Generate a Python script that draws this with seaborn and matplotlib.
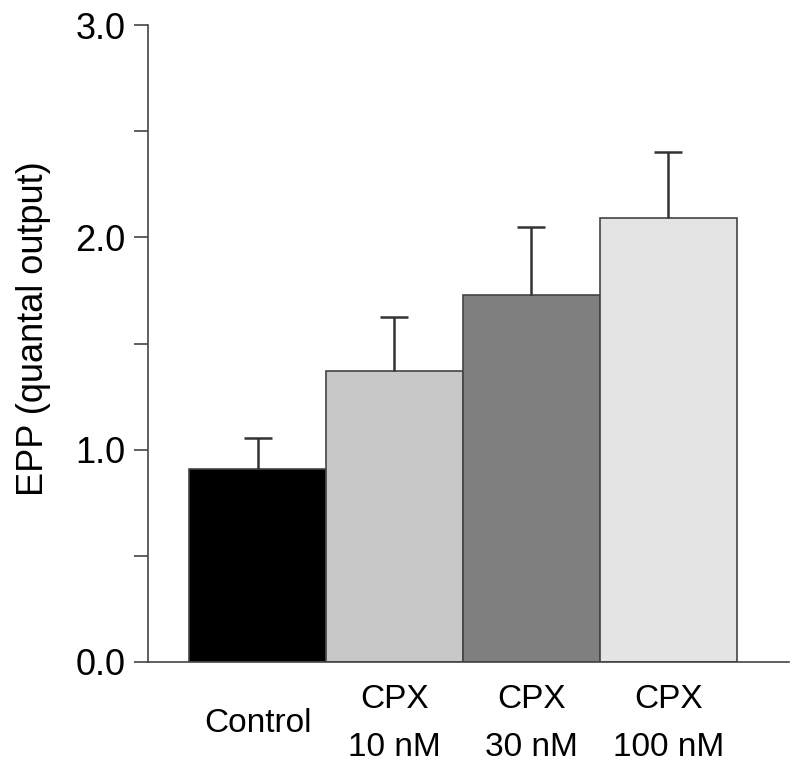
import numpy as np
import pandas as pd
import matplotlib
matplotlib.use("Agg")
import matplotlib.pyplot as plt
import seaborn as sns

# data
groups = ["Control", "CPX\n10 nM", "CPX\n30 nM", "CPX\n100 nM"]
epp_mean = [0.91, 1.37, 1.73, 2.09]
epp_sem = [0.145, 0.255, 0.32, 0.31]
bar_colors = ["#000000", "#c8c8c8", "#7f7f7f", "#e4e4e4"]

df = pd.DataFrame({"group": groups, "epp": epp_mean})

sns.set_style("ticks")
plt.rcParams["font.family"] = ["Liberation Sans", "DejaVu Sans"]
plt.rcParams["text.color"] = "black"
plt.rcParams["axes.labelcolor"] = "black"
plt.rcParams["xtick.color"] = "black"
plt.rcParams["ytick.color"] = "black"

fig = plt.figure(figsize=(8, 7.72), dpi=100)
ax = fig.add_axes([0.185, 0.1425, 0.801, 0.825])

sns.barplot(data=df, x="group", y="epp", hue="group", palette=bar_colors,
            width=1.0, edgecolor="#444444", linewidth=1.2, legend=False, ax=ax)

# one-sided error bars (upward only)
xs = np.arange(len(groups))
_, caps, _ = ax.errorbar(xs, epp_mean, yerr=[np.zeros(len(groups)), epp_sem], fmt="none",
                         ecolor="#333333", elinewidth=1.8, capsize=10, capthick=1.8, zorder=1)
caps[0].set_visible(False)

ax.set_xlim(-0.80, 3.88)
ax.set_ylim(0, 3.0)
ax.set_yticks(np.arange(0, 3.01, 0.5))
ax.set_yticklabels(["0.0", "", "1.0", "", "2.0", "", "3.0"])
ax.tick_params(axis="y", length=10, width=1.2, color="#444444", labelsize=26, pad=6)
ax.tick_params(axis="x", length=0, labelsize=24, pad=44)
for lab in ax.get_xticklabels():
    lab.set_verticalalignment("center")
    lab.set_linespacing(1.7)

ax.set_xlabel("")
ax.set_ylabel("EPP (quantal output)", fontsize=26, labelpad=18)
ax.yaxis.label.set_y(0.523)

sns.despine(ax=ax)
ax.spines["left"].set_color("#444444")
ax.spines["bottom"].set_color("#444444")
ax.spines["left"].set_linewidth(1.2)
ax.spines["bottom"].set_linewidth(1.2)

fig.savefig("out.png", dpi=100)
